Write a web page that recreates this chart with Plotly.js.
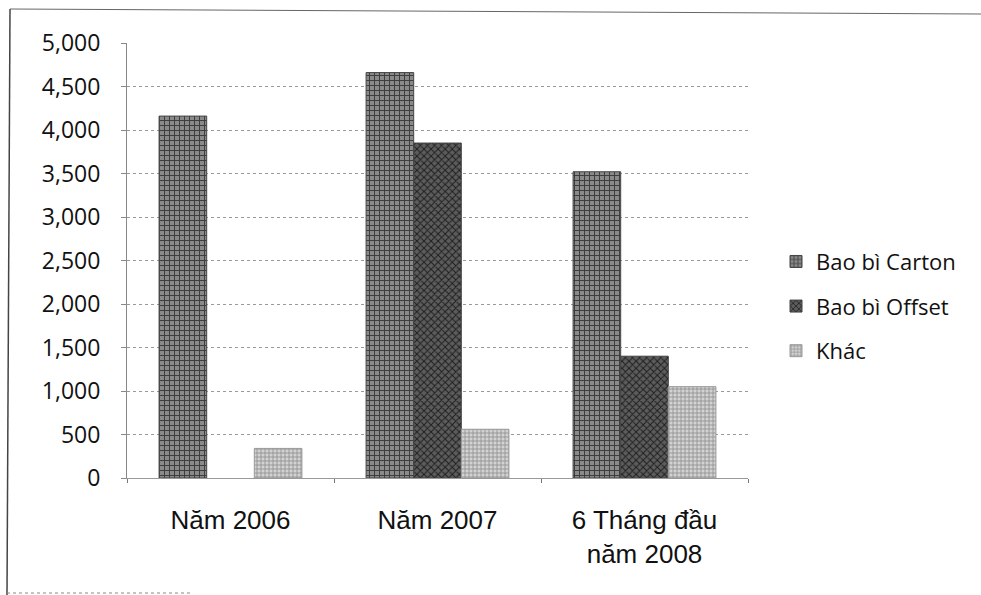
<!DOCTYPE html>
<html>
<head>
<meta charset="utf-8">
<script src="https://cdn.plot.ly/plotly-3.0.1.min.js"></script>
<style>html,body{margin:0;padding:0;background:#fff;}#chart{width:981px;height:595px;}</style>
</head>
<body>
<div id="chart"></div>
<script>
// Data
const categories = ["Năm 2006", "Năm 2007", "6 Tháng đầu<br>năm 2008"];
const seriesNames = ["Bao bì Carton", "Bao bì Offset", "Khác"];
const carton = [4160, 4660, 3520];
const offset = [null, 3850, 1400];
const khac = [340, 560, 1050];
const yTicks = [0, 500, 1000, 1500, 2000, 2500, 3000, 3500, 4000, 4500, 5000];

const styles = [
  {bg: "#8a8a8a", fg: "#3c3c3c", shape: "+", size: 5, sol: 0.35},
  {bg: "#5c5c5c", fg: "#1e1e1e", shape: "x", size: 5, sol: 0.35},
  {bg: "#d2d2d2", fg: "#8a8a8a", shape: "+", size: 4, sol: 0.35}
];
const values = [carton, offset, khac];

const traces = values.map((v, i) => ({
  type: "bar",
  name: seriesNames[i],
  x: categories,
  y: v,
  legendgroup: "g" + i,
  marker: {
    color: styles[i].bg,
    line: {color: i === 2 ? "#999" : "#444", width: 1},
    pattern: {shape: styles[i].shape, fgcolor: styles[i].fg, bgcolor: styles[i].bg,
              size: styles[i].size, solidity: styles[i].sol, fillmode: "replace"}
  },
  hoverinfo: "x+y+name"
}));

// plot area in pixels: x 127..748, y 43..478
const px = x => (x - 127) / 621;
const py = y => (478 - y) / 435;

const layout = {
  width: 981, height: 595,
  margin: {l: 127, r: 233, t: 43, b: 117},
  paper_bgcolor: "#ffffff",
  plot_bgcolor: "#ffffff",
  barmode: "group",
  bargap: 0.31,
  bargroupgap: 0,
  showlegend: true,
  legend: {
    x: px(776), xanchor: "left", y: 0.395, yanchor: "middle",
    font: {family: "Open Sans, sans-serif", size: 22, color: "#111"},
    traceorder: "grouped", tracegroupgap: 13,
    itemwidth: 30, bgcolor: "rgba(0,0,0,0)"
  },
  xaxis: {
    type: "category",
    showgrid: false,
    showline: true, linecolor: "#999", linewidth: 1,
    ticks: "outside", ticklen: 4, tickcolor: "#777", tickson: "boundaries",
    tickfont: {family: "Liberation Sans, Arial, sans-serif", size: 26, color: "#111"},
    ticklabelstandoff: 19
  },
  yaxis: {
    range: [0, 5000],
    tickvals: yTicks,
    ticktext: yTicks.map(v => v.toLocaleString("en-US")),
    showgrid: true, gridcolor: "#9a9a9a", griddash: "dot", gridwidth: 1,
    zeroline: false,
    showline: true, linecolor: "#888", linewidth: 1,
    ticks: "outside", ticklen: 5, tickcolor: "#888",
    tickfont: {family: "Open Sans, sans-serif", size: 23, color: "#111"},
    ticklabelstandoff: 16
  },
  shapes: [
    {type: "line", xref: "paper", yref: "paper", x0: px(10), x1: px(7), y0: py(9), y1: py(595),
     line: {color: "#444", width: 1.5}},
    {type: "line", xref: "paper", yref: "paper", x0: px(10), x1: px(981), y0: py(9), y1: py(14),
     line: {color: "#666", width: 1}},
    {type: "line", xref: "paper", yref: "paper", x0: px(7), x1: px(190), y0: py(593), y1: py(593),
     line: {color: "#888", width: 1, dash: "dot"}}
  ]
};

Plotly.newPlot("chart", traces, layout, {displayModeBar: false, staticPlot: true});
</script>
</body>
</html>
